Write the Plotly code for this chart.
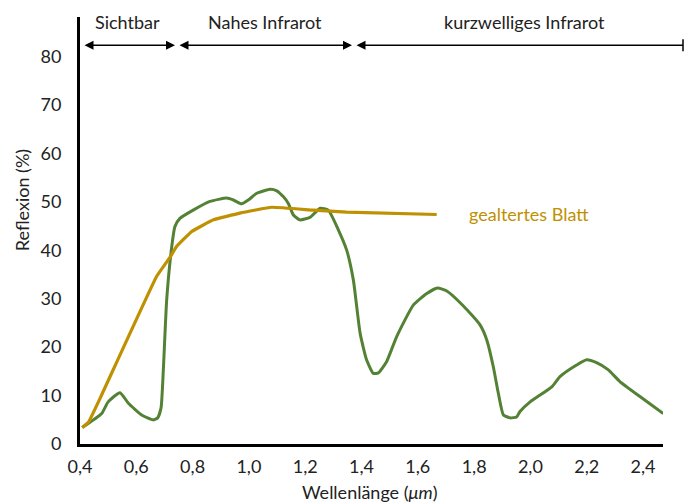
import plotly.graph_objects as go

# Gesundes Blatt (grün)
green_x = [0.408, 0.477, 0.50, 0.542, 0.572, 0.619, 0.66, 0.676, 0.688, 0.696, 0.708, 0.726, 0.737, 0.755,
           0.802, 0.862, 0.921, 0.945, 0.974, 0.998, 1.028, 1.075, 1.099, 1.122, 1.14, 1.158,
           1.181, 1.217, 1.253, 1.282, 1.318, 1.347, 1.371, 1.395, 1.418, 1.442, 1.46, 1.489,
           1.525, 1.584, 1.632, 1.67, 1.703, 1.762, 1.821, 1.845, 1.868, 1.886, 1.904, 1.928,
           1.951, 1.963, 1.999, 2.076, 2.105, 2.164, 2.20, 2.235, 2.277, 2.318, 2.389, 2.472]
green_y = [3.4, 6.3, 8.7, 10.6, 8.4, 6.0, 5.0, 5.4, 7.5, 15.3, 29.8, 40.8, 44.9, 46.6,
           48.3, 50.1, 50.8, 50.4, 49.6, 50.4, 51.8, 52.6, 52.3, 51.1, 49.7, 47.3,
           46.3, 46.8, 48.7, 48.3, 44.2, 40.1, 33.9, 22.9, 17.4, 14.6, 14.7, 17.0,
           22.2, 28.7, 31.1, 32.2, 31.6, 28.5, 24.6, 21.5, 16.0, 10.5, 6.0, 5.4,
           5.6, 6.7, 8.7, 11.8, 13.9, 16.3, 17.4, 16.8, 15.3, 12.9, 9.8, 6.3]

# Gealtertes Blatt (gold)
gold_x = [0.408, 0.43, 0.475, 0.672, 0.72, 0.743, 0.797, 0.874, 0.968, 1.081, 1.229, 1.347, 1.667]
gold_y = [3.4, 4.5, 9.9, 34.6, 38.6, 40.8, 43.9, 46.3, 47.7, 48.9, 48.3, 47.9, 47.4]

x_ticks = [0.4, 0.6, 0.8, 1.0, 1.2, 1.4, 1.6, 1.8, 2.0, 2.2, 2.4]
x_tick_labels = ["0,4", "0,6", "0,8", "1,0", "1,2", "1,4", "1,6", "1,8", "2,0", "2,2", "2,4"]
y_ticks = [0, 10, 20, 30, 40, 50, 60, 70, 80]

regions = ["Sichtbar", "Nahes Infrarot", "kurzwelliges Infrarot"]

GREEN = "#548235"
GOLD = "#BF9000"
FONT = "Lato"
FS = 18

fig = go.Figure()
fig.add_trace(go.Scatter(x=green_x, y=green_y, mode="lines",
                         line=dict(color=GREEN, width=3, shape="spline", smoothing=0.5),
                         showlegend=False))
fig.add_trace(go.Scatter(x=gold_x, y=gold_y, mode="lines",
                         line=dict(color=GOLD, width=3.2, shape="spline", smoothing=0.3),
                         showlegend=False))

fig.update_layout(
    width=684, height=503,
    margin=dict(l=80, r=21, t=17, b=59),
    plot_bgcolor="white", paper_bgcolor="white",
    font=dict(family=FONT, size=FS, color="#222"),
    xaxis=dict(range=[0.4, 2.471], showgrid=False, zeroline=False, showline=True,
               linecolor="black", linewidth=3, tickvals=x_ticks, ticktext=x_tick_labels,
               ticks="", ticklabelstandoff=4, automargin=False),
    yaxis=dict(range=[0, 88.2], showgrid=False, zeroline=False, showline=True,
               linecolor="black", linewidth=3, tickvals=y_ticks,
               ticks="", ticklabelstandoff=12, automargin=False),
)

ann = []
ann.append(dict(text="Reflexion (%)", xref="paper", yref="paper", x=-0.0995, y=0.571,
                textangle=-90, showarrow=False, xanchor="center", yanchor="middle",
                font=dict(size=FS)))
ann.append(dict(text="Wellenlänge (<i>μm</i>)", xref="paper", yref="paper", x=0.497, y=-0.112,
                showarrow=False, xanchor="center", yanchor="middle", font=dict(size=FS)))
ann.append(dict(text="gealtertes Blatt", xref="x", yref="y", x=1.995, y=47.6,
                showarrow=False, xanchor="center", yanchor="middle", font=dict(size=FS, color=GOLD)))

label_x = [0.082, 0.317, 0.763]
for t, lx in zip(regions, label_x):
    ann.append(dict(text=t, xref="paper", yref="paper", x=lx, y=0.988, showarrow=False,
                    xanchor="center", yanchor="middle", font=dict(size=FS)))

ay_p = 0.934
ann.append(dict(text="", xref="paper", yref="paper", x=(175 - 80) / 583, y=ay_p,
                ax=-(175 - 83), ay=0, showarrow=True, arrowhead=2, startarrowhead=2,
                arrowside="end+start", arrowsize=1.2, startarrowsize=1.2, arrowwidth=1.5,
                arrowcolor="black"))
ann.append(dict(text="", xref="paper", yref="paper", x=(352 - 80) / 583, y=ay_p,
                ax=-(352 - 178), ay=0, showarrow=True, arrowhead=2, startarrowhead=2,
                arrowside="end+start", arrowsize=1.2, startarrowsize=1.2, arrowwidth=1.5,
                arrowcolor="black"))
ann.append(dict(text="", xref="paper", yref="paper", x=(683 - 80) / 583, y=ay_p,
                ax=-(683 - 355), ay=0, showarrow=True, startarrowhead=2,
                arrowside="start", startarrowsize=1.2, arrowwidth=1.5, arrowcolor="black"))
fig.update_layout(annotations=ann)

fig.add_shape(type="line", xref="paper", yref="paper", x0=(683 - 80) / 583, x1=(683 - 80) / 583,
              y0=0.948, y1=0.920, line=dict(color="black", width=1.5))

fig.write_html("out.html", config={"displayModeBar": False, "staticPlot": True},
               post_script="document.body.style.margin='0';document.body.style.overflow='hidden';")
